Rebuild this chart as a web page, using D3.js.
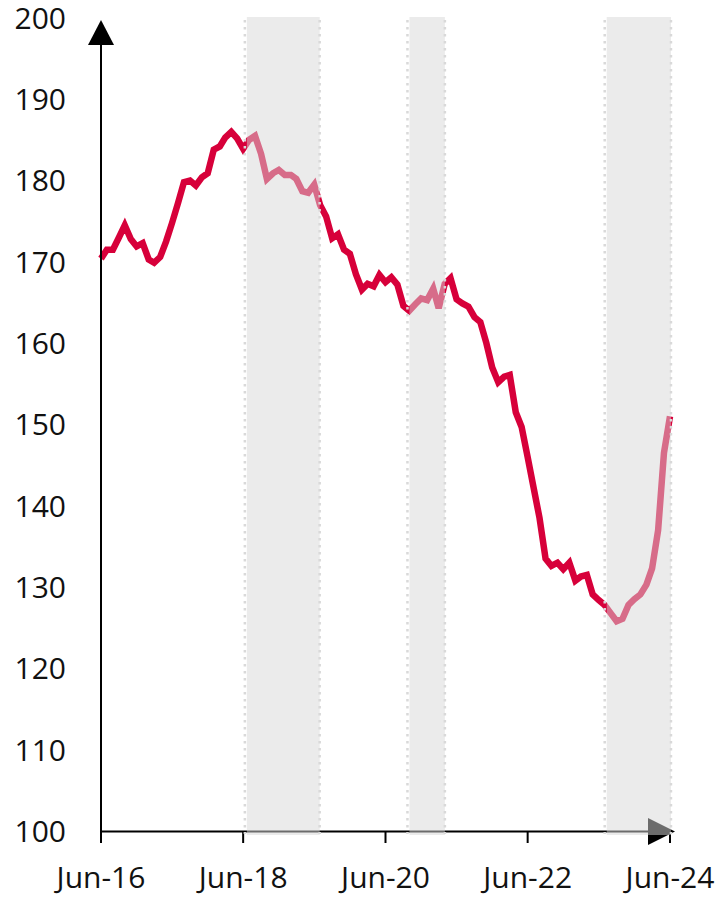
<!DOCTYPE html>
<html>
<head>
<meta charset="utf-8">
<script src="https://cdn.jsdelivr.net/npm/d3@7"></script>
<style>
  body { margin: 0; background: #fff; }
  svg text { font-family: 'Open Sans', sans-serif; fill: #111; }
</style>
</head>
<body>
<div id="chart"></div>
<script>
// monthly index, Jun-16 .. Jun-24
var startMonth = '2016-06';
var values = [170.4,171.5,171.5,173.0,174.5,172.8,171.9,172.3,170.3,169.9,170.6,172.5,
              174.8,177.2,179.8,180.0,179.4,180.4,180.9,183.8,184.2,185.3,186.0,185.2,
              183.9,185.0,185.5,183.3,180.2,180.9,181.3,180.7,180.7,180.2,178.7,178.5,
              179.5,177.0,175.6,172.9,173.4,171.5,171.0,168.5,166.6,167.3,167.0,168.4,
              167.5,168.1,167.2,164.6,164.0,164.8,165.5,165.3,166.7,164.3,167.3,168.0,
              165.4,164.9,164.5,163.2,162.6,160.0,157.0,155.2,155.9,156.1,151.5,149.7,
              146.0,142.3,138.5,133.5,132.6,133.0,132.2,133.0,130.8,131.3,131.5,129.1,
              128.4,127.8,126.8,125.8,126.1,127.8,128.5,129.1,130.3,132.3,137.0,146.5,
              151.0];
var periodStarts = ['2018-06-20','2020-10-02','2023-07-12'];
var periodEnds   = ['2019-06-29','2021-04-02','2024-06-06'];
var xTickDates = ['2016-06-01','2018-06-01','2020-06-01','2022-06-01','2024-06-01'];
var xTickLabels = ['Jun-16','Jun-18','Jun-20','Jun-22','Jun-24'];
var yTicks = [100,110,120,130,140,150,160,170,180,190,200];

var width = 723, height = 898;
var parseDay = d3.timeParse('%Y-%m-%d');
var month0 = d3.timeParse('%Y-%m')(startMonth);
var data = values.map(function(v,i){ return {date: d3.timeMonth.offset(month0,i), value: v}; });

var x = d3.scaleTime()
          .domain([parseDay('2016-06-01'), parseDay('2024-06-01')])
          .range([101, 670]);
var y = d3.scaleLinear()
          .domain([100,200])
          .range([831, 18]);

var svg = d3.select('#chart').append('svg')
              .attr('width',width)
              .attr('height',height);

// series
var line = d3.line()
             .x(function(d){ return x(d.date); })
             .y(function(d){ return y(d.value); });

svg.append('path')
   .datum(data)
   .attr('d',line)
   .attr('fill','none')
   .attr('stroke','#d7003a')
   .attr('stroke-width',6.5)
   .attr('stroke-linejoin','miter')
   .attr('stroke-miterlimit',3);

// axes
var axisY = y(100);
svg.append('line')
   .attr('x1',x.range()[0]).attr('x2',x.range()[0])
   .attr('y1',axisY).attr('y2',45)
   .attr('stroke','#000').attr('stroke-width',2);
svg.append('path')
   .attr('d','M'+(x.range()[0]-13)+',45 L'+x.range()[0]+',20 L'+(x.range()[0]+13)+',45 Z')
   .attr('fill','#000');

svg.append('line')
   .attr('x1',x.range()[0]).attr('x2',648)
   .attr('y1',axisY+0.5).attr('y2',axisY+0.5)
   .attr('stroke','#000').attr('stroke-width',2);
svg.append('path')
   .attr('d','M648,'+(axisY-13)+' L675,'+(axisY+0.5)+' L648,'+(axisY+14)+' Z')
   .attr('fill','#000');

svg.selectAll('.xtick')
   .data(xTickDates)
   .enter()
   .append('line')
   .attr('class','xtick')
   .attr('x1',function(d){ return x(parseDay(d)); })
   .attr('x2',function(d){ return x(parseDay(d)); })
   .attr('y1',axisY)
   .attr('y2',axisY+12)
   .attr('stroke','#000')
   .attr('stroke-width',2);

svg.selectAll('.xlabel')
   .data(xTickDates)
   .enter()
   .append('text')
   .attr('class','xlabel')
   .attr('x',function(d){ return x(parseDay(d)); })
   .attr('y',888)
   .attr('text-anchor','middle')
   .style('font-size','30px')
   .text(function(d,i){ return xTickLabels[i]; });

svg.selectAll('.ylabel')
   .data(yTicks)
   .enter()
   .append('text')
   .attr('class','ylabel')
   .attr('x',66)
   .attr('y',function(d){ return y(d); })
   .attr('dy','0.36em')
   .attr('text-anchor','end')
   .style('font-size','30px')
   .text(function(d){ return d; });

// shaded periods drawn over the series
var periods = periodStarts.map(function(s,i){ return {x0: x(parseDay(s)), x1: x(parseDay(periodEnds[i]))}; });

svg.selectAll('.period')
   .data(periods)
   .enter()
   .append('rect')
   .attr('class','period')
   .attr('x',function(d){ return d.x0; })
   .attr('width',function(d){ return d.x1-d.x0; })
   .attr('y',y(200)-1)
   .attr('height',axisY+4-(y(200)-1))
   .attr('fill','#d7d7d7')
   .attr('fill-opacity',0.5);

var edges = [];
periods.forEach(function(p){ edges.push(p.x0-2); edges.push(p.x1); });

svg.selectAll('.edge')
   .data(edges)
   .enter()
   .append('line')
   .attr('class','edge')
   .attr('x1',function(d){ return d; })
   .attr('x2',function(d){ return d; })
   .attr('y1',y(200)+2)
   .attr('y2',axisY+3)
   .attr('stroke','#d9d9d9')
   .attr('stroke-width',2.5)
   .attr('stroke-dasharray','2.5,4.5');
</script>
</body>
</html>
